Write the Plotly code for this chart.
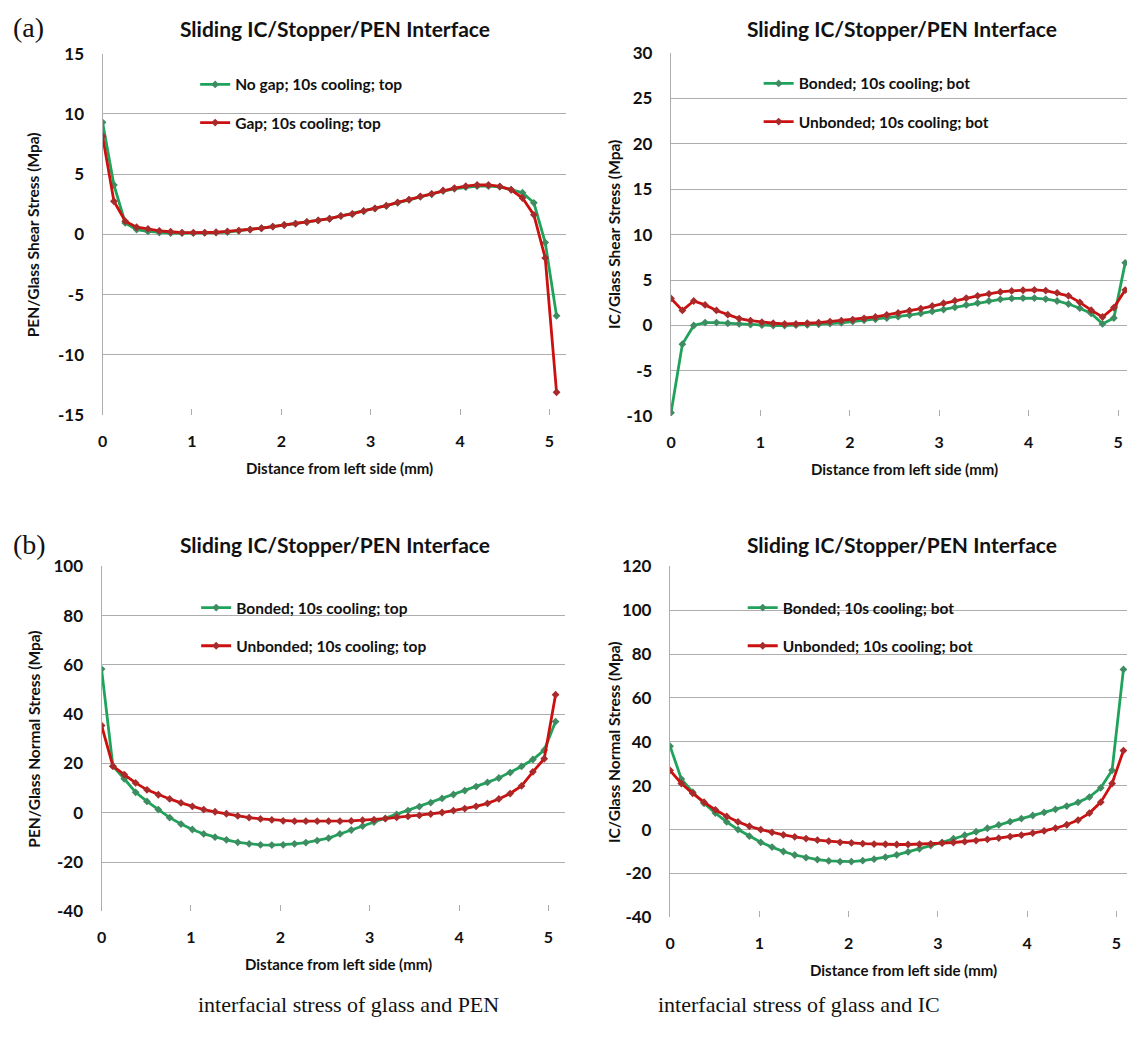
import plotly.graph_objects as go

W, H = 1129, 1040

# ---------------- data ----------------
x_mm = [0.000, 0.127, 0.254, 0.381, 0.508, 0.635, 0.762, 0.889, 1.016, 1.143,
        1.270, 1.397, 1.524, 1.651, 1.778, 1.905, 2.032, 2.159, 2.286, 2.413,
        2.540, 2.667, 2.794, 2.921, 3.048, 3.175, 3.302, 3.429, 3.556, 3.683,
        3.810, 3.937, 4.064, 4.191, 4.318, 4.445, 4.572, 4.699, 4.826, 4.953,
        5.080]

# (a) left: PEN/Glass shear stress
pen_shear_nogap = [9.3, 4.1, 0.95, 0.4, 0.25, 0.15, 0.1, 0.1, 0.1, 0.12,
                   0.15, 0.2, 0.3, 0.4, 0.51, 0.65, 0.78, 0.89, 1.03, 1.16,
                   1.30, 1.52, 1.68, 1.92, 2.13, 2.35, 2.62, 2.86, 3.12, 3.33,
                   3.6, 3.78, 3.92, 4.0, 4.0, 3.95, 3.72, 3.46, 2.62, -0.68,
                   -6.76]
pen_shear_gap = [8.15, 2.75, 1.1, 0.6, 0.45, 0.3, 0.22, 0.15, 0.15, 0.15,
                 0.18, 0.25, 0.32, 0.4, 0.51, 0.65, 0.78, 0.89, 1.03, 1.16,
                 1.30, 1.54, 1.70, 1.95, 2.16, 2.38, 2.65, 2.89, 3.16, 3.37,
                 3.65, 3.84, 4.0, 4.1, 4.1, 3.98, 3.7, 3.02, 1.62, -1.95,
                 -13.1]

# (a) right: IC/Glass shear stress
ic_shear_bonded = [-9.6, -2.05, 0.0, 0.32, 0.32, 0.25, 0.18, 0.1, 0.04, 0.0,
                   0.0, 0.04, 0.07, 0.14, 0.22, 0.29, 0.43, 0.58, 0.68, 0.83,
                   0.97, 1.15, 1.33, 1.55, 1.76, 2.01, 2.27, 2.48, 2.70, 2.88,
                   2.98, 3.02, 3.02, 2.91, 2.70, 2.37, 1.91, 1.33, 0.18, 0.83,
                   6.9]
ic_shear_unbonded = [2.98, 1.66, 2.70, 2.27, 1.66, 1.19, 0.76, 0.54, 0.36, 0.25,
                     0.18, 0.18, 0.25, 0.32, 0.43, 0.54, 0.65, 0.79, 0.94, 1.18,
                     1.38, 1.65, 1.87, 2.16, 2.45, 2.73, 3.02, 3.27, 3.49, 3.70,
                     3.81, 3.88, 3.92, 3.85, 3.6, 3.27, 2.55, 1.69, 0.94, 1.98,
                     3.9]

# (b) left: PEN/Glass normal stress
pen_normal_bonded = [58.3, 18.9, 13.8, 8.3, 4.6, 1.3, -2.0, -4.6, -6.8, -8.6,
                     -9.9, -11.0, -12.0, -12.6, -13.0, -13.1, -13.0, -12.6, -12.1, -11.3,
                     -10.3, -8.6, -7.0, -5.4, -3.8, -2.3, -0.7, 0.9, 2.5, 4.1,
                     5.8, 7.4, 9.0, 10.6, 12.3, 14.1, 16.3, 18.8, 21.6, 25.4,
                     37.0]
pen_normal_unbonded = [35.4, 18.9, 15.5, 12.1, 9.3, 7.3, 5.6, 4.0, 2.6, 1.3,
                       0.4, -0.4, -1.3, -2.0, -2.5, -2.9, -3.3, -3.4, -3.4, -3.4,
                       -3.4, -3.4, -3.3, -3.0, -2.8, -2.4, -1.9, -1.5, -1.1, -0.5,
                       0.1, 0.9, 1.7, 2.6, 3.8, 5.6, 7.8, 10.9, 16.6, 21.9,
                       47.9]

# (b) right: IC/Glass normal stress
ic_normal_bonded = [38.0, 23.0, 17.0, 12.0, 7.5, 3.5, 0.0, -3.0, -5.8, -8.0,
                    -10.0, -11.6, -12.8, -13.7, -14.3, -14.6, -14.6, -14.2, -13.5, -12.6,
                    -11.5, -10.2, -8.8, -7.3, -5.8, -4.2, -2.6, -1.0, 0.6, 2.1,
                    3.6, 5.0, 6.4, 7.8, 9.2, 10.7, 12.4, 14.8, 19.0, 27.0,
                    73.0]
ic_normal_unbonded = [27.0, 21.0, 16.5, 12.5, 9.0, 6.0, 3.5, 1.5, 0.0, -1.3,
                      -2.4, -3.3, -4.1, -4.8, -5.3, -5.8, -6.1, -6.4, -6.6, -6.7,
                      -6.8, -6.8, -6.7, -6.5, -6.2, -5.9, -5.5, -5.0, -4.5, -3.9,
                      -3.2, -2.5, -1.6, -0.6, 0.6, 2.2, 4.3, 7.5, 12.5, 21.0,
                      36.0]

x_ticks = [0, 1, 2, 3, 4, 5]
y_ticks_a_left = [-15, -10, -5, 0, 5, 10, 15]
y_ticks_a_right = [-10, -5, 0, 5, 10, 15, 20, 25, 30]
y_ticks_b_left = [-40, -20, 0, 20, 40, 60, 80, 100]
y_ticks_b_right = [-40, -20, 0, 20, 40, 60, 80, 100, 120]

panel_title = "Sliding IC/Stopper/PEN Interface"
x_title = "Distance from left side (mm)"

# ---------------- styling ----------------
GREEN = "#1fa35b"
GREEN_M = "#3f8c62"
RED = "#cc1010"
RED_M = "#a82a2a"
GRID = "#adadad"
FONT = "Lato"


def fx(px):
    return px / W


def fy(py):
    return 1 - py / H


fig = go.Figure()

panels = [
    dict(n=1, xd=(98, 563), yd=(43.5, 412.5), yr=(-15, 15), yt=y_ticks_a_left, xmax=5.18,
         s=[("No gap; 10s cooling; top", pen_shear_nogap, GREEN, GREEN_M),
            ("Gap; 10s cooling; top", pen_shear_gap, RED, RED_M)],
         yt_title="PEN/Glass Shear Stress (Mpa)"),
    dict(n=2, xd=(669, 1127), yd=(42.9, 413.7), yr=(-10, 30), yt=y_ticks_a_right, xmax=5.10,
         s=[("Bonded; 10s cooling; bot", ic_shear_bonded, GREEN, GREEN_M),
            ("Unbonded; 10s cooling; bot", ic_shear_unbonded, RED, RED_M)],
         yt_title="IC/Glass Shear Stress (Mpa)"),
    dict(n=3, xd=(97, 562), yd=(566.7, 918.9), yr=(-40, 100), yt=y_ticks_b_left, xmax=5.18,
         s=[("Bonded; 10s cooling; top", pen_normal_bonded, GREEN, GREEN_M),
            ("Unbonded; 10s cooling; top", pen_normal_unbonded, RED, RED_M)],
         yt_title="PEN/Glass Normal Stress (Mpa)"),
    dict(n=4, xd=(668, 1127), yd=(566.7, 925.0), yr=(-40, 120), yt=y_ticks_b_right, xmax=5.12,
         s=[("Bonded; 10s cooling; bot", ic_normal_bonded, GREEN, GREEN_M),
            ("Unbonded; 10s cooling; bot", ic_normal_unbonded, RED, RED_M)],
         yt_title="IC/Glass Normal Stress (Mpa)"),
]

legend_pos = {1: (191, 58), 2: (757, 57), 3: (192, 592), 4: (741, 592)}
gap_boxes = {1: (162, 66, 436, 140), 2: (754, 66, 1005, 155),
             3: (177, 597, 447, 645), 4: (718, 597, 1006, 670)}

annotations = []
shapes = []
layout_axes = {}

for p in panels:
    n = p["n"]
    xa = "x" if n == 1 else f"x{n}"
    ya = "y" if n == 1 else f"y{n}"
    lg = "legend" if n == 1 else f"legend{n}"
    for i, (name, vals, lc, mc) in enumerate(p["s"]):
        fig.add_trace(go.Scatter(
            x=x_mm, y=vals, name=name, mode="lines+markers",
            line=dict(color=lc, width=2.8),
            marker=dict(symbol="diamond", size=6, color=mc),
            xaxis=xa, yaxis=ya, legend=lg, legendgroup=f"g{n}{i}",
        ))
    xk = "xaxis" if n == 1 else f"xaxis{n}"
    yk = "yaxis" if n == 1 else f"yaxis{n}"
    layout_axes[xk] = dict(
        domain=[fx(p["xd"][0]), fx(p["xd"][1])], range=[0, p["xmax"]],
        anchor=ya, tickvals=x_ticks, ticktext=[str(t) for t in x_ticks],
        showgrid=False, zeroline=False, showline=False,
        ticks="inside", ticklen=6, tickcolor=GRID, tickwidth=1.2,
        ticklabelstandoff=15,
        tickfont=dict(family=FONT, size=16, color="#111", weight="bold"),
    )
    layout_axes[yk] = dict(
        domain=[fy(p["yd"][1]), fy(p["yd"][0])], range=list(p["yr"]),
        anchor=xa, tickvals=p["yt"], ticktext=[str(t) for t in p["yt"]],
        showgrid=True, gridcolor=GRID, gridwidth=1.3, zeroline=False,
        showline=True, linecolor=GRID, linewidth=1.3, ticks="",
        ticklabelstandoff=14,
        tickfont=dict(family=FONT, size=17, color="#111", weight="bold"),
    )
    lx, ly = legend_pos[n]
    layout_axes[lg] = dict(
        x=fx(lx), y=fy(ly), xanchor="left", yanchor="top",
        bgcolor="rgba(0,0,0,0)", borderwidth=0, tracegroupgap=15,
        font=dict(family=FONT, size=15.5, color="#111", weight="bold"),
        itemclick=False,
    )
    bx0, by0, bx1, by1 = gap_boxes[n]
    shapes.append(dict(type="rect", xref="paper", yref="paper",
                       x0=fx(bx0), x1=fx(bx1), y0=fy(by1), y1=fy(by0),
                       fillcolor="white", line=dict(width=0), layer="between"))
    cx = (p["xd"][0] + p["xd"][1]) / 2
    # panel title
    annotations.append(dict(text=panel_title, xref="paper", yref="paper",
                            x=fx(331 if n in (1, 3) else 901),
                            y=fy(18 if n in (1, 2) else 545),
                            xanchor="center", yanchor="middle", showarrow=False,
                            font=dict(family=FONT, size=21, color="#111", weight="bold")))
    # x axis title
    annotations.append(dict(text=x_title, xref="paper", yref="paper",
                            x=fx(cx + 5), y=fy(p["yd"][1] + 54),
                            xanchor="center", yanchor="middle", showarrow=False,
                            font=dict(family=FONT, size=15, color="#111", weight="bold")))
    # y axis title
    annotations.append(dict(text=p["yt_title"], xref="paper", yref="paper",
                            x=fx(29 if n in (1, 3) else 611),
                            y=fy((p["yd"][0] + p["yd"][1]) / 2),
                            xanchor="center", yanchor="middle", showarrow=False,
                            textangle=-90,
                            font=dict(family=FONT, size=15.5, color="#111", weight="bold")))

# panel labels
annotations.append(dict(text="(a)", xref="paper", yref="paper", x=fx(6), y=fy(17),
                        xanchor="left", yanchor="middle", showarrow=False,
                        font=dict(family="Liberation Serif", size=28, color="#111")))
annotations.append(dict(text="(b)", xref="paper", yref="paper", x=fx(6), y=fy(545),
                        xanchor="left", yanchor="middle", showarrow=False,
                        font=dict(family="Liberation Serif", size=28, color="#111")))
# captions
annotations.append(dict(text="interfacial stress of glass and PEN", xref="paper", yref="paper",
                        x=fx(345), y=fy(1014), xanchor="center", yanchor="middle",
                        showarrow=False,
                        font=dict(family="Liberation Serif", size=22, color="#111")))
annotations.append(dict(text="interfacial stress of glass and IC", xref="paper", yref="paper",
                        x=fx(798), y=fy(1014), xanchor="center", yanchor="middle",
                        showarrow=False,
                        font=dict(family="Liberation Serif", size=22, color="#111")))

fig.update_layout(
    width=W, height=H, margin=dict(l=0, r=0, t=0, b=0),
    paper_bgcolor="white", plot_bgcolor="white",
    showlegend=True, annotations=annotations, shapes=shapes,
    **layout_axes,
)

fig.write_html("out.html")
